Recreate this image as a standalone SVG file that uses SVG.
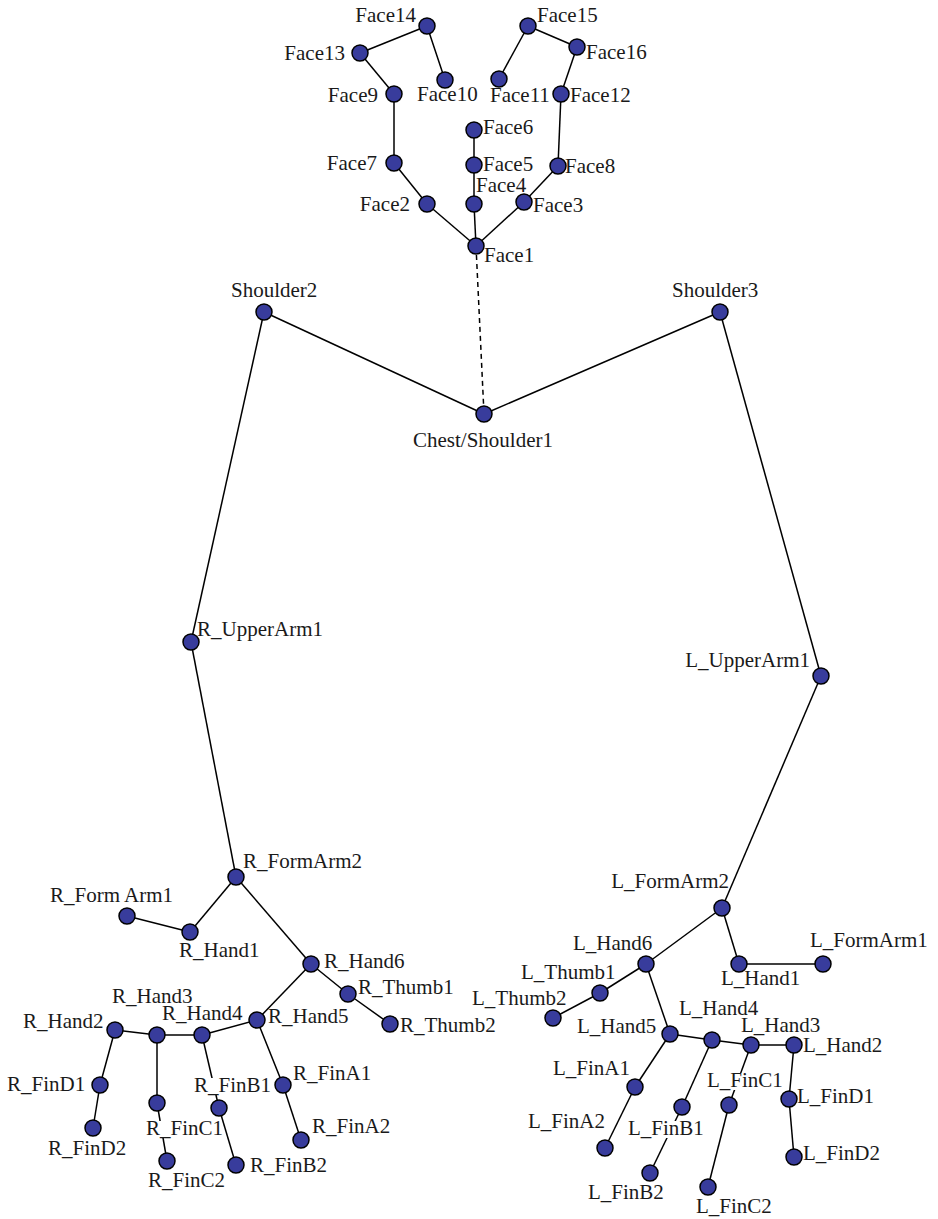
<svg xmlns="http://www.w3.org/2000/svg" width="938" height="1219" viewBox="0 0 938 1219">
<style>
.e line{stroke:#000;stroke-width:1.5}
.e .d{stroke-dasharray:5 4}
circle{fill:#383c9c;stroke:#000;stroke-width:1.5}
.bg{fill:#fff}
text{font-family:"Liberation Serif","Times New Roman",serif;font-size:21px;fill:#1a1a1a}
.r{text-anchor:end}
</style>
<rect width="938" height="1219" fill="#fff"/>
<g id="connectors" class="e">
<line x1="476" y1="246" x2="427" y2="204"/>
<line x1="427" y1="204" x2="394" y2="163"/>
<line x1="394" y1="163" x2="394" y2="94"/>
<line x1="394" y1="94" x2="360" y2="53"/>
<line x1="360" y1="53" x2="427" y2="26"/>
<line x1="427" y1="26" x2="445" y2="80"/>
<line x1="476" y1="246" x2="474" y2="204"/>
<line x1="474" y1="204" x2="474" y2="165"/>
<line x1="474" y1="165" x2="474" y2="130"/>
<line x1="476" y1="246" x2="524" y2="202"/>
<line x1="524" y1="202" x2="558" y2="166"/>
<line x1="558" y1="166" x2="561" y2="94"/>
<line x1="561" y1="94" x2="577" y2="47"/>
<line x1="577" y1="47" x2="528" y2="26"/>
<line x1="528" y1="26" x2="499" y2="79"/>
<line class="d" x1="476" y1="246" x2="484" y2="414"/>
<line x1="484" y1="414" x2="264" y2="312"/>
<line x1="484" y1="414" x2="720" y2="312"/>
<line x1="264" y1="312" x2="191" y2="642"/>
<line x1="720" y1="312" x2="821" y2="676"/>
<line x1="191" y1="642" x2="236" y2="877"/>
<line x1="236" y1="877" x2="190" y2="932"/>
<line x1="190" y1="932" x2="127" y2="916"/>
<line x1="236" y1="877" x2="311" y2="964"/>
<line x1="311" y1="964" x2="348" y2="994"/>
<line x1="348" y1="994" x2="390" y2="1024"/>
<line x1="311" y1="964" x2="257" y2="1020"/>
<line x1="257" y1="1020" x2="202" y2="1035"/>
<line x1="202" y1="1035" x2="157" y2="1035"/>
<line x1="157" y1="1035" x2="115" y2="1030"/>
<line x1="115" y1="1030" x2="100" y2="1085"/>
<line x1="100" y1="1085" x2="93" y2="1128"/>
<line x1="157" y1="1035" x2="157" y2="1103"/>
<line x1="157" y1="1103" x2="167" y2="1161"/>
<line x1="202" y1="1035" x2="219" y2="1108"/>
<line x1="219" y1="1108" x2="236" y2="1165"/>
<line x1="257" y1="1020" x2="283" y2="1085"/>
<line x1="283" y1="1085" x2="301" y2="1140"/>
<line x1="821" y1="676" x2="722" y2="908"/>
<line x1="722" y1="908" x2="739" y2="964"/>
<line x1="739" y1="964" x2="823" y2="964"/>
<line x1="722" y1="908" x2="646" y2="964"/>
<line x1="646" y1="964" x2="600" y2="993"/>
<line x1="600" y1="993" x2="553" y2="1018"/>
<line x1="646" y1="964" x2="670" y2="1034"/>
<line x1="670" y1="1034" x2="712" y2="1040"/>
<line x1="712" y1="1040" x2="751" y2="1045"/>
<line x1="751" y1="1045" x2="794" y2="1045"/>
<line x1="794" y1="1045" x2="789" y2="1099"/>
<line x1="789" y1="1099" x2="794" y2="1157"/>
<line x1="751" y1="1045" x2="729" y2="1105"/>
<line x1="729" y1="1105" x2="708" y2="1187"/>
<line x1="712" y1="1040" x2="682" y2="1107"/>
<line x1="682" y1="1107" x2="650" y2="1173"/>
<line x1="670" y1="1034" x2="635" y2="1087"/>
<line x1="635" y1="1087" x2="605" y2="1148"/>
</g>
<g id="Face14"><circle cx="427" cy="26" r="8"/><text class="r" x="416" y="22">Face14</text></g>
<g id="Face13"><circle cx="360" cy="53" r="8"/><text class="r" x="345" y="60">Face13</text></g>
<g id="Face10"><circle cx="445" cy="80" r="8"/><text x="417" y="101">Face10</text></g>
<g id="Face9"><circle cx="394" cy="94" r="8"/><text class="r" x="378" y="102">Face9</text></g>
<g id="Face7"><circle cx="394" cy="163" r="8"/><text class="r" x="377" y="170">Face7</text></g>
<g id="Face2"><circle cx="427" cy="204" r="8"/><text class="r" x="410" y="211">Face2</text></g>
<g id="Face6"><circle cx="474" cy="130" r="8"/><text x="483" y="134">Face6</text></g>
<g id="Face5"><circle cx="474" cy="165" r="8"/><text x="483" y="171">Face5</text></g>
<g id="Face4"><circle cx="474" cy="204" r="8"/><text x="476" y="192">Face4</text></g>
<g id="Face1"><circle cx="476" cy="246" r="8"/><text x="484" y="262">Face1</text></g>
<g id="Face3"><circle cx="524" cy="202" r="8"/><text x="533" y="212">Face3</text></g>
<g id="Face8"><circle cx="558" cy="166" r="8"/><text x="565" y="173">Face8</text></g>
<g id="Face12"><circle cx="561" cy="94" r="8"/><text x="570" y="102">Face12</text></g>
<g id="Face11"><circle cx="499" cy="79" r="8"/><text x="490" y="102">Face11</text></g>
<g id="Face15"><circle cx="528" cy="26" r="8"/><text x="537" y="22">Face15</text></g>
<g id="Face16"><circle cx="577" cy="47" r="8"/><text x="586" y="59">Face16</text></g>
<g id="Shoulder2"><circle cx="264" cy="312" r="8"/><text x="231" y="297">Shoulder2</text></g>
<g id="Shoulder3"><circle cx="720" cy="312" r="8"/><text x="672" y="297">Shoulder3</text></g>
<g id="Chest_Shoulder1"><circle cx="484" cy="414" r="8"/><text x="413" y="447">Chest/Shoulder1</text></g>
<g id="R_UpperArm1"><circle cx="191" cy="642" r="8"/><text x="197" y="636">R_UpperArm1</text></g>
<g id="L_UpperArm1"><circle cx="821" cy="676" r="8"/><text class="r" x="810" y="667">L_UpperArm1</text></g>
<g id="R_FormArm2"><circle cx="236" cy="877" r="8"/><text x="243" y="868">R_FormArm2</text></g>
<g id="R_FormArm1"><circle cx="127" cy="916" r="8"/><text x="50" y="902">R_Form Arm1</text></g>
<g id="R_Hand1"><circle cx="190" cy="932" r="8"/><text x="179" y="957">R_Hand1</text></g>
<g id="R_Hand6"><circle cx="311" cy="964" r="8"/><text x="324" y="968">R_Hand6</text></g>
<g id="R_Thumb1"><circle cx="348" cy="994" r="8"/><text x="358" y="994">R_Thumb1</text></g>
<g id="R_Thumb2"><circle cx="390" cy="1024" r="8"/><text x="400" y="1032">R_Thumb2</text></g>
<g id="R_Hand5"><circle cx="257" cy="1020" r="8"/><text x="268" y="1023">R_Hand5</text></g>
<g id="R_Hand4"><circle cx="202" cy="1035" r="8"/><text x="162" y="1020">R_Hand4</text></g>
<g id="R_Hand3"><circle cx="157" cy="1035" r="8"/><text x="112" y="1003">R_Hand3</text></g>
<g id="R_Hand2"><circle cx="115" cy="1030" r="8"/><text x="23" y="1028">R_Hand2</text></g>
<g id="R_FinD1"><circle cx="100" cy="1085" r="8"/><text x="7" y="1091">R_FinD1</text></g>
<g id="R_FinD2"><circle cx="93" cy="1128" r="8"/><text x="48" y="1155">R_FinD2</text></g>
<g id="R_FinC1"><circle cx="157" cy="1103" r="8"/><rect class="bg" x="146.5" y="1121" width="75" height="17"/><text x="146" y="1135">R_FinC1</text></g>
<g id="R_FinC2"><circle cx="167" cy="1161" r="8"/><text x="148" y="1187">R_FinC2</text></g>
<g id="R_FinB1"><circle cx="219" cy="1108" r="8"/><rect class="bg" x="194.5" y="1078" width="75" height="17"/><text x="194" y="1092">R_FinB1</text></g>
<g id="R_FinB2"><circle cx="236" cy="1165" r="8"/><text x="250" y="1172">R_FinB2</text></g>
<g id="R_FinA1"><circle cx="283" cy="1085" r="8"/><text x="293" y="1080">R_FinA1</text></g>
<g id="R_FinA2"><circle cx="301" cy="1140" r="8"/><text x="312" y="1133">R_FinA2</text></g>
<g id="L_FormArm2"><circle cx="722" cy="908" r="8"/><text class="r" x="729" y="888">L_FormArm2</text></g>
<g id="L_Hand1"><circle cx="739" cy="964" r="8"/><text x="721" y="985">L_Hand1</text></g>
<g id="L_FormArm1"><circle cx="823" cy="964" r="8"/><text x="810" y="947">L_FormArm1</text></g>
<g id="L_Hand6"><circle cx="646" cy="964" r="8"/><text x="573" y="950">L_Hand6</text></g>
<g id="L_Thumb1"><circle cx="600" cy="993" r="8"/><text x="521" y="979">L_Thumb1</text></g>
<g id="L_Thumb2"><circle cx="553" cy="1018" r="8"/><text x="472" y="1005">L_Thumb2</text></g>
<g id="L_Hand5"><circle cx="670" cy="1034" r="8"/><text x="577" y="1033">L_Hand5</text></g>
<g id="L_Hand4"><circle cx="712" cy="1040" r="8"/><text x="679" y="1015">L_Hand4</text></g>
<g id="L_Hand3"><circle cx="751" cy="1045" r="8"/><text x="741" y="1032">L_Hand3</text></g>
<g id="L_Hand2"><circle cx="794" cy="1045" r="8"/><text x="803" y="1052">L_Hand2</text></g>
<g id="L_FinD1"><circle cx="789" cy="1099" r="8"/><text x="797" y="1103">L_FinD1</text></g>
<g id="L_FinD2"><circle cx="794" cy="1157" r="8"/><text x="803" y="1160">L_FinD2</text></g>
<g id="L_FinC1"><circle cx="729" cy="1105" r="8"/><rect class="bg" x="707.5" y="1073" width="74" height="17"/><text x="707" y="1087">L_FinC1</text></g>
<g id="L_FinC2"><circle cx="708" cy="1187" r="8"/><text x="696" y="1213">L_FinC2</text></g>
<g id="L_FinB1"><circle cx="682" cy="1107" r="8"/><rect class="bg" x="628.5" y="1121" width="74" height="17"/><text x="628" y="1135">L_FinB1</text></g>
<g id="L_FinB2"><circle cx="650" cy="1173" r="8"/><text x="588" y="1199">L_FinB2</text></g>
<g id="L_FinA1"><circle cx="635" cy="1087" r="8"/><text x="553" y="1075">L_FinA1</text></g>
<g id="L_FinA2"><circle cx="605" cy="1148" r="8"/><text x="528" y="1128">L_FinA2</text></g>
</svg>
